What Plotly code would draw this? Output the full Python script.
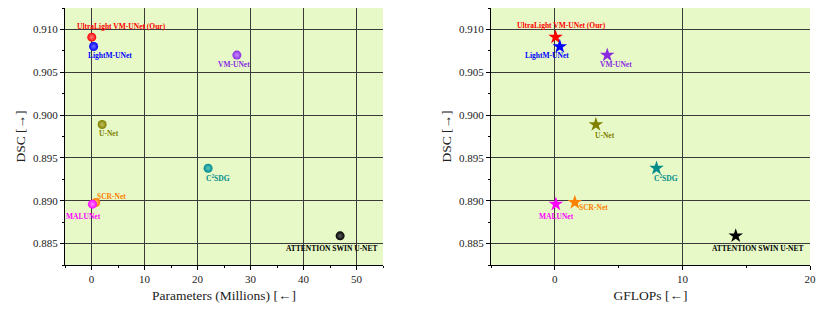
import plotly.graph_objects as go

# ---- data ----
models = ["UltraLight VM-UNet (Our)", "LightM-UNet", "VM-UNet", "U-Net",
          "C<sup>2</sup>SDG", "SCR-Net", "MALUNet", "ATTENTION SWIN U-NET"]
params_m = [0.049, 0.40, 27.43, 2.01, 22.0, 0.80, 0.175, 46.91]
gflops = [0.060, 0.39, 4.11, 3.22, 7.97, 1.57, 0.083, 14.18]
dsc = [0.9091, 0.9080, 0.9070, 0.8989, 0.8938, 0.8898, 0.8896, 0.8859]
colors = ["#FF0000", "#0000FF", "#8A2BE2", "#808000", "#008B8B", "#FF8000", "#FF00FF", "#000000"]
light = ["#FF8080", "#7070FF", "#C890FF", "#C0C060", "#60C8C8", "#FFB870", "#FF90FF", "#606060"]

# label offsets (pixels) for each panel
left_off = [(30, 11), (16, -9), (-3, -9), (7, -9), (10, -10), (16, 6), (-9, -12), (-8, -13)]
right_off = [(6, 12), (-13, -9), (9, -9), (9, -11), (9, -10), (19, -5), (1, -12), (22, -13)]

BG = "#E6F9C6"
GRID = "#3a3a3a"
FONT = "Liberation Serif"

# page body has an 8px margin; figure is sized to fit the window
W, H = 822, 302
OFF = 8

fig = go.Figure()

for i, m in enumerate(models):
    fig.add_trace(go.Scatter(
        x=[params_m[i]], y=[dsc[i]], mode="markers", xaxis="x", yaxis="y",
        marker=dict(size=9, color=colors[i], symbol="circle",
                    gradient=dict(type="radial", color=light[i]),
                    line=dict(width=0)),
        showlegend=False, hoverinfo="text", text=[m]))
    fig.add_trace(go.Scatter(
        x=[gflops[i]], y=[dsc[i]], mode="markers", xaxis="x2", yaxis="y2",
        marker=dict(size=11, color=colors[i], symbol="star", line=dict(width=0)),
        showlegend=False, hoverinfo="text", text=[m]))

annotations = []
for i, m in enumerate(models):
    for xv, xr, yr, off in ((params_m[i], "x", "y", left_off[i]), (gflops[i], "x2", "y2", right_off[i])):
        annotations.append(dict(
            x=xv, y=dsc[i], xref=xr, yref=yr, text="<b>" + m + "</b>",
            showarrow=False, xshift=off[0], yshift=off[1],
            font=dict(family=FONT, size=7.5, color=colors[i])))

axis_common = dict(
    showline=True, linecolor="black", linewidth=1, mirror=False,
    ticks="outside", ticklen=4, tickwidth=1, tickcolor="black",
    showgrid=True, gridcolor=GRID, gridwidth=1, zeroline=False, automargin=False,
    tickfont=dict(family=FONT, size=11, color="#222"),
)
title_font = dict(family=FONT, size=13.5, color="#222")

fig.update_layout(
    width=W, height=H,
    margin=dict(l=0, r=0, t=0, b=H - (265 - OFF)),
    paper_bgcolor="white", plot_bgcolor=BG,
    font=dict(family=FONT),
    xaxis=dict(domain=[(65 - OFF) / W, (383 - OFF) / W], range=[-5, 55], dtick=10, tick0=0,
               minor=dict(ticks="outside", ticklen=2, dtick=5, tick0=0, tickcolor="black", showgrid=False),
               title=dict(text="Parameters (Millions) [←]", font=title_font, standoff=6),
               anchor="y", **axis_common),
    yaxis=dict(domain=[0, 1], range=[0.8825, 0.9125], dtick=0.005, tick0=0.885, tickformat=".3f",
               minor=dict(ticks="outside", ticklen=2, dtick=0.0025, tick0=0.885, tickcolor="black", showgrid=False),
               title=dict(text="DSC [→]", font=title_font, standoff=4),
               anchor="x", **axis_common),
    xaxis2=dict(domain=[(491 - OFF) / W, (810 - OFF) / W], range=[-5, 20], dtick=10, tick0=0,
                minor=dict(ticks="outside", ticklen=2, dtick=5, tick0=0, tickcolor="black", showgrid=False),
                title=dict(text="GFLOPs [←]", font=title_font, standoff=6),
                anchor="y2", **axis_common),
    yaxis2=dict(domain=[0, 1], range=[0.8825, 0.9125], dtick=0.005, tick0=0.885, tickformat=".3f",
                minor=dict(ticks="outside", ticklen=2, dtick=0.0025, tick0=0.885, tickcolor="black", showgrid=False),
                title=dict(text="DSC [→]", font=title_font, standoff=4),
                anchor="x2", **axis_common),
    annotations=annotations,
)

fig.write_html("out.html")
